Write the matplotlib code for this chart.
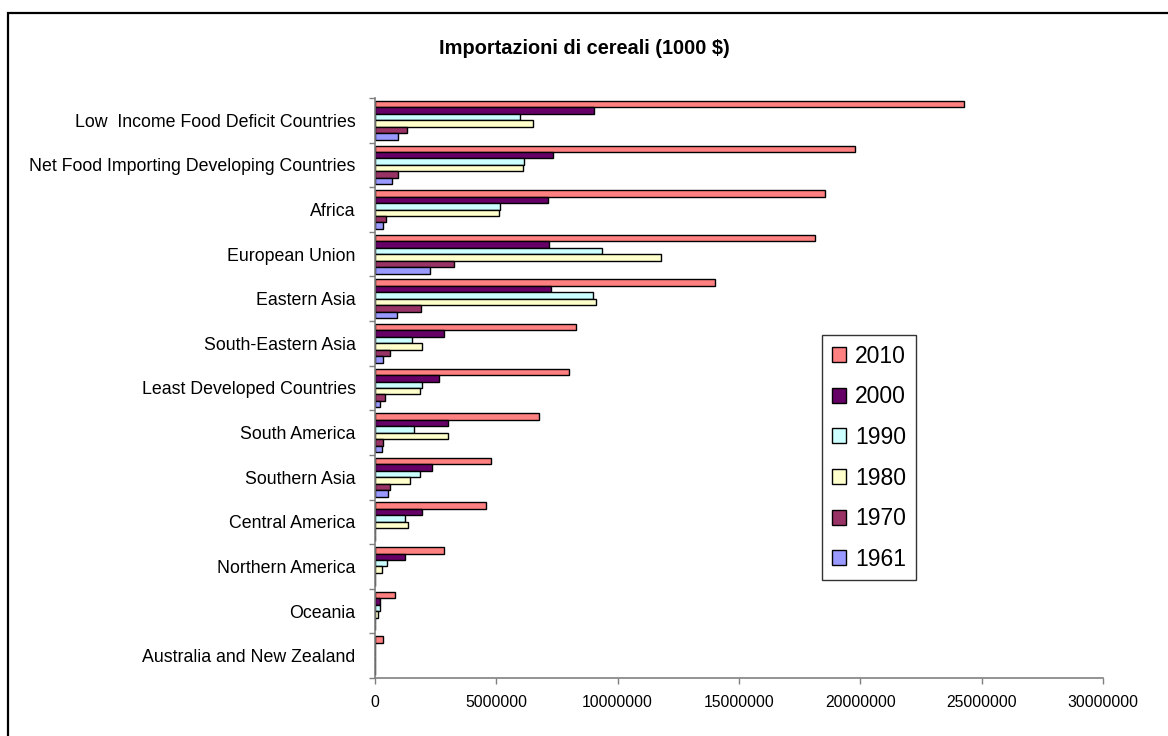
import matplotlib
matplotlib.use("Agg")
import matplotlib.pyplot as plt
from matplotlib import font_manager
from matplotlib.patches import Rectangle
import numpy as np

categories = [
    "Low  Income Food Deficit Countries",
    "Net Food Importing Developing Countries",
    "Africa",
    "European Union",
    "Eastern Asia",
    "South-Eastern Asia",
    "Least Developed Countries",
    "South America",
    "Southern Asia",
    "Central America",
    "Northern America",
    "Oceania",
    "Australia and New Zealand",
]

years = ["2010", "2000", "1990", "1980", "1970", "1961"]

v2010 = [24280000, 19800000, 18540000, 18120000, 14000000, 8290000, 8000000,
         6760000, 4800000, 4580000, 2850000, 830000, 340000]
v2000 = [9010000, 7330000, 7130000, 7190000, 7240000, 2850000, 2650000,
         2990000, 2360000, 1950000, 1250000, 220000, 0]
v1990 = [5960000, 6130000, 5150000, 9350000, 8970000, 1540000, 1950000,
         1590000, 1870000, 1240000, 490000, 200000, 0]
v1980 = [6500000, 6090000, 5100000, 11800000, 9110000, 1950000, 1870000,
         2990000, 1460000, 1340000, 270000, 120000, 0]
v1970 = [1320000, 960000, 470000, 3270000, 1880000, 630000, 410000,
         340000, 630000, 0, 0, 0, 0]
v1961 = [960000, 680000, 330000, 2280000, 890000, 340000, 220000,
         270000, 550000, 0, 0, 0, 0]

series = [v2010, v2000, v1990, v1980, v1970, v1961]
colors = ["#FF8080", "#660066", "#CCFFFF", "#FFFFCC", "#993366", "#9999FF"]

installed = {f.name for f in font_manager.fontManager.ttflist}
base_font = "Liberation Sans" if "Liberation Sans" in installed else "DejaVu Sans"
narrow_font = "Liberation Sans Narrow" if "Liberation Sans Narrow" in installed else base_font
plt.rcParams["font.family"] = [base_font, "DejaVu Sans"]

fig = plt.figure(figsize=(11.68, 7.36), dpi=100)
ax = fig.add_axes([375 / 1168, 58 / 736, 728 / 1168, 580 / 736])

ypos = np.arange(len(categories))
h = 0.145
for k, (vals, col, yr) in enumerate(zip(series, colors, years)):
    ax.barh(ypos + (k - 2.5) * h, vals, height=h, color=col,
            edgecolor="black", linewidth=1.0, label=yr)

ax.set_xlim(0, 30000000)
ax.set_ylim(len(categories) - 0.5, -0.5)
ax.set_xticks(np.arange(0, 30000001, 5000000))
ax.set_xticklabels([f"{int(t)}" for t in np.arange(0, 30000001, 5000000)],
                   fontfamily=narrow_font, fontsize=13 if narrow_font != base_font else 11.3)

ax.set_yticks(ypos)
ax.set_yticklabels(categories, fontsize=12.8)
ax.set_yticks(np.arange(-0.5, len(categories), 1.0), minor=True)
ax.tick_params(axis="y", which="major", length=0, pad=14)
ax.tick_params(axis="y", which="minor", length=4, color="#808080", width=1)
ax.tick_params(axis="x", which="major", length=4, color="#808080", width=1, pad=8)

for s in ["top", "right"]:
    ax.spines[s].set_visible(False)
for s in ["left", "bottom"]:
    ax.spines[s].set_color("#808080")
    ax.spines[s].set_linewidth(1.2)

leg = ax.legend(loc="upper left", bbox_to_anchor=((822 - 375) / 728, (678 - 335) / 580),
                fontsize=16.5, frameon=True, fancybox=False, edgecolor="black",
                handlelength=0.62, handleheight=0.62, handletextpad=0.4,
                labelspacing=0.77, borderpad=0.42, borderaxespad=0)
leg.get_frame().set_linewidth(1.0)

fig.text(0.5, 1 - 48 / 736, "Importazioni di cereali (1000 $)", ha="center",
         va="center", fontsize=14.4, fontweight="bold")

fig.patches.append(Rectangle((8 / 1168, -0.05), 1.2, 1 - 13 / 736 + 0.05,
                             transform=fig.transFigure, fill=False,
                             edgecolor="black", linewidth=1.6))

fig.savefig("out.png", dpi=100)
